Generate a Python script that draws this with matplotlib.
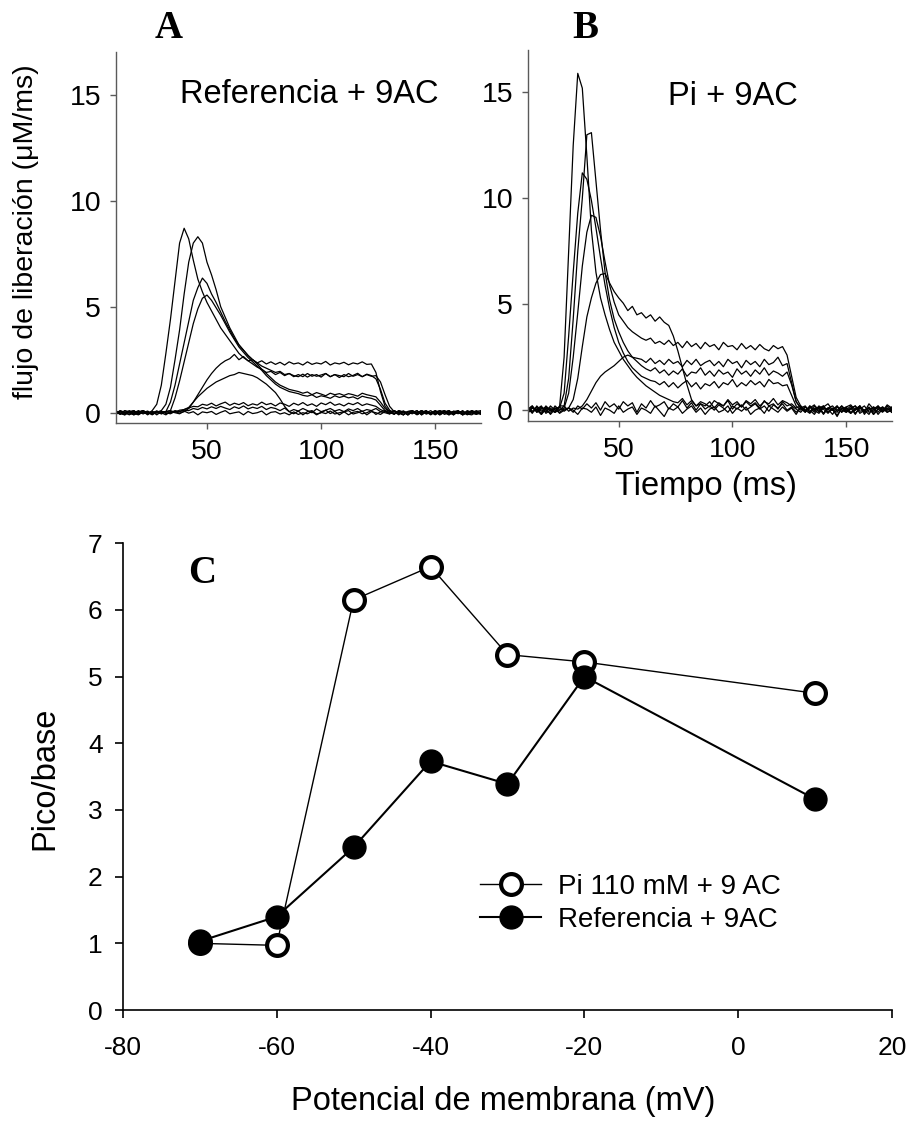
import numpy as np
import matplotlib.pyplot as plt

plt.rcParams['font.family'] = ['Liberation Sans', 'DejaVu Sans']
plt.rcParams['axes.unicode_minus'] = False

# tiempo de muestreo (ms), un punto cada 2 ms
tiempo = np.arange(10, 171, 2)

# panel A: flujo de liberacion (uM/ms), Referencia + 9AC
flujo_ref = [
    [0.05, -0.08, 0.1, -0.02, -0.1, 0.08, 0.0, -0.06, 0.1, 0.4,
     1.3, 2.8, 4.4, 6.2, 8.0, 8.7, 8.2, 7.2, 6.3, 5.7,
     5.2, 4.8, 4.4, 4.0, 3.7, 3.4, 3.1, 2.8, 2.6, 2.45,
     2.3, 2.15, 2.05, 1.9, 1.95, 1.8, 1.9, 1.75, 1.85, 1.7,
     1.8, 1.7, 1.85, 1.72, 1.8, 1.68, 1.85, 1.7, 1.8, 1.75,
     1.7, 1.85, 1.72, 1.8, 1.7, 1.82, 1.75, 1.6, 1.1, 0.45,
     0.12, -0.05, 0.08, -0.1, 0.05, 0.1, -0.08, 0.02, 0.1, -0.06,
     0.05, -0.1, 0.08, 0.0, -0.1, 0.1, -0.05, 0.06, -0.02, -0.08, 0.05],
    [-0.05, 0.08, 0.0, -0.1, 0.06, 0.02, 0.1, -0.06, 0.04, 0.0,
     0.1, 0.4, 1.2, 2.5, 3.9, 5.6, 7.1, 8.0, 8.3, 8.0,
     7.1, 6.5, 5.8, 5.0, 4.5, 4.0, 3.6, 3.2, 2.95, 2.7,
     2.5, 2.35, 2.2, 2.1, 2.0, 1.9, 1.95, 1.8, 1.85, 1.75,
     1.7, 1.82, 1.68, 1.8, 1.72, 1.78, 1.85, 1.7, 1.8, 1.66,
     1.8, 1.7, 1.76, 1.86, 1.7, 1.8, 1.72, 1.75, 1.45, 0.85,
     0.3, 0.05, -0.1, 0.08, 0.0, -0.05, 0.1, -0.1, 0.05, 0.0,
     -0.05, 0.1, 0.0, -0.08, 0.05, 0.1, -0.1, 0.0, 0.08, -0.05, 0.0],
    [0.02, -0.06, 0.1, 0.04, -0.08, 0.0, 0.08, -0.1, 0.05, -0.02,
     0.05, 0.05, 0.5, 1.3, 2.3, 3.3, 4.3, 5.3, 5.9, 6.35,
     6.1, 5.6, 5.2, 4.75, 4.3, 3.9, 3.5, 3.2, 2.95, 2.7,
     2.5, 2.3, 2.05, 1.85, 1.65, 1.45, 1.3, 1.2, 1.1, 1.05,
     1.0, 0.92, 0.98, 0.85, 0.95, 0.88, 0.8, 0.92, 0.85, 0.9,
     0.82, 0.9, 0.85, 0.78, 0.92, 0.85, 0.8, 0.75, 0.5, 0.2,
     0.05, 0.1, -0.06, 0.04, -0.1, 0.08, 0.0, -0.05, 0.1, -0.08,
     0.1, -0.04, 0.0, 0.08, -0.1, 0.05, 0.0, -0.08, 0.1, 0.02, -0.05],
    [-0.08, 0.04, 0.0, 0.1, -0.04, -0.1, 0.06, 0.02, -0.06, 0.08,
     0.0, 0.05, 0.1, 0.7, 1.5, 2.4, 3.3, 4.2, 4.9, 5.4,
     5.55, 5.3, 4.95, 4.6, 4.2, 3.8, 3.45, 3.1, 2.85, 2.6,
     2.4, 2.2, 2.0, 1.75, 1.55, 1.35, 1.2, 1.1, 1.0, 0.95,
     0.9, 0.82, 0.78, 0.85, 0.72, 0.8, 0.75, 0.68, 0.8, 0.72,
     0.78, 0.7, 0.75, 0.65, 0.78, 0.72, 0.68, 0.6, 0.35, 0.1,
     -0.05, 0.08, 0.0, -0.1, 0.06, 0.1, -0.06, 0.0, 0.05, -0.1,
     0.04, 0.1, -0.08, 0.0, 0.06, -0.05, 0.1, -0.1, 0.0, 0.05, 0.0],
    [0.06, -0.04, -0.1, 0.05, 0.1, -0.06, 0.0, 0.08, -0.05, 0.02,
     -0.04, 0.06, 0.0, 0.05, -0.02, 0.05, 0.2, 0.5, 0.85, 1.2,
     1.55, 1.85, 2.1, 2.3, 2.45, 2.55, 2.75, 2.5, 2.65, 2.45,
     2.5, 2.35, 2.45, 2.3, 2.4, 2.28, 2.38, 2.25, 2.4, 2.3,
     2.35, 2.25, 2.4, 2.28, 2.35, 2.3, 2.42, 2.25, 2.35, 2.3,
     2.38, 2.26, 2.35, 2.3, 2.4, 2.28, 2.3, 1.9, 1.0, 0.3,
     0.05, -0.08, 0.1, 0.0, -0.06, 0.08, -0.1, 0.04, 0.0, 0.1,
     -0.06, 0.0, 0.1, -0.1, 0.05, 0.0, 0.08, -0.06, -0.1, 0.06, 0.1],
    [0.0, 0.08, -0.06, 0.02, 0.1, -0.08, 0.04, -0.02, 0.06, -0.1,
     0.05, 0.0, -0.05, 0.06, 0.05, 0.15, 0.25, 0.5, 0.75, 0.95,
     1.15, 1.3, 1.45, 1.55, 1.65, 1.75, 1.8, 1.9, 1.85, 1.8,
     1.75, 1.65, 1.5, 1.35, 1.15, 0.95, 0.65, 0.3, 0.05, -0.05,
     0.08, -0.1, 0.05, 0.1, -0.06, 0.0, 0.12, -0.04, 0.06, -0.1,
     0.04, 0.1, -0.06, 0.0, 0.08, -0.1, 0.05, 0.0, -0.08, 0.06,
     0.1, -0.04, 0.0, 0.08, -0.1, 0.05, -0.02, 0.1, -0.06, 0.0,
     0.06, -0.1, 0.04, 0.1, -0.05, 0.0, -0.08, 0.1, 0.02, -0.04, 0.05],
    [0.1, -0.05, 0.0, 0.06, -0.1, 0.04, 0.1, -0.04, 0.0, 0.08,
     -0.06, 0.05, 0.1, 0.02, 0.12, 0.15, 0.22, 0.3, 0.28, 0.4,
     0.35, 0.45, 0.32, 0.42, 0.5, 0.35, 0.45, 0.38, 0.48, 0.33,
     0.42, 0.36, 0.5, 0.38, 0.44, 0.32, 0.46, 0.4, 0.3, 0.45,
     0.36, 0.48, 0.34, 0.42, 0.3, 0.46, 0.38, 0.5, 0.35, 0.42,
     0.32, 0.45, 0.38, 0.48, 0.34, 0.42, 0.36, 0.3, 0.15, 0.05,
     -0.04, 0.1, 0.0, -0.08, 0.06, 0.02, 0.1, -0.1, 0.05, 0.0,
     0.1, -0.05, 0.02, -0.1, 0.08, 0.0, 0.05, -0.06, 0.1, -0.02, -0.08],
    [-0.04, 0.1, 0.02, -0.08, 0.0, 0.1, -0.06, 0.05, -0.1, 0.04,
     0.08, -0.04, 0.0, 0.1, 0.05, 0.12, 0.1, 0.2, 0.15, 0.25,
     0.18, 0.28, 0.2, 0.3, 0.22, 0.15, 0.28, 0.2, 0.32, 0.18,
     0.26, 0.2, 0.3, 0.15, 0.25, 0.2, 0.1, 0.22, 0.05, 0.15,
     0.08, 0.2, 0.1, 0.0, 0.18, 0.05, 0.12, 0.2, 0.08, 0.15,
     0.05, 0.18, 0.1, 0.2, 0.06, 0.15, 0.1, 0.2, 0.05, 0.1,
     0.0, -0.06, 0.1, 0.04, -0.1, 0.06, 0.0, 0.1, -0.05, 0.02,
     -0.1, 0.05, 0.1, -0.04, 0.0, 0.08, -0.1, 0.06, 0.0, 0.1, -0.05],
    [0.08, 0.0, -0.1, 0.06, 0.04, -0.06, 0.1, 0.0, -0.08, 0.05,
     0.0, -0.1, 0.06, 0.0, -0.05, 0.08, -0.02, 0.05, -0.1, 0.04,
     0.0, 0.06, -0.08, 0.02, 0.1, -0.05, 0.0, 0.04, -0.1, 0.06,
     -0.04, 0.0, 0.08, -0.1, 0.02, 0.05, -0.06, 0.0, -0.1, 0.04,
     -0.08, 0.0, -0.05, 0.06, -0.1, 0.02, -0.04, 0.08, -0.06, 0.0,
     0.05, -0.1, 0.02, 0.06, -0.05, 0.0, 0.1, -0.08, 0.04, 0.0,
     -0.06, 0.08, 0.0, -0.1, 0.05, 0.02, -0.08, 0.1, 0.0, -0.04,
     0.06, -0.08, 0.0, 0.1, -0.05, 0.04, -0.1, 0.02, 0.08, -0.06, 0.0],
]

# panel B: flujo de liberacion (uM/ms), Pi + 9AC
flujo_pi = [
    [0.1, -0.15, 0.2, -0.05, 0.1, -0.2, 0.05, 0.15, 2.5, 7.5,
     12.5, 15.9, 15.2, 12.0, 8.5, 6.5, 5.3, 4.5, 3.8, 3.2,
     2.8, 2.4, 2.1, 1.8, 1.55, 1.35, 1.15, 1.0, 0.85, 0.7,
     0.6, 0.5, 0.4, 0.35, 0.55, 0.25, 0.45, 0.2, 0.4, 0.3,
     0.15, 0.45, 0.3, 0.2, 0.5, 0.25, 0.4, 0.15, 0.45, 0.3,
     0.5, 0.2, 0.4, 0.3, 0.55, 0.25, 0.45, 0.35, 0.2, 0.05,
     -0.1, 0.15, 0.0, -0.2, 0.1, 0.2, -0.1, 0.05, -0.25, 0.1,
     0.0, 0.2, -0.15, 0.1, -0.05, 0.15, -0.2, 0.05, 0.1, -0.1, 0.05],
    [-0.1, 0.15, 0.0, -0.2, 0.1, 0.05, -0.1, 0.2, 0.2, 1.5,
     4.3, 7.5, 10.0, 13.0, 13.1, 10.8, 8.5, 6.5, 5.2, 4.3,
     3.7, 3.2, 2.8, 2.5, 2.3, 2.1, 1.95, 1.85, 2.0, 1.75,
     1.9, 1.65, 1.85, 1.7, 1.95, 1.6, 1.8, 1.75, 2.0, 1.65,
     1.85, 1.6, 1.9, 1.7, 1.8, 1.55, 1.95, 1.7, 1.85, 1.6,
     1.9, 1.7, 2.0, 1.65, 1.85, 1.75, 1.6, 1.8, 1.2, 0.4,
     0.1, -0.1, 0.2, 0.0, -0.15, 0.1, 0.05, -0.2, 0.15, 0.0,
     -0.1, 0.1, 0.2, -0.05, 0.0, -0.2, 0.15, 0.05, -0.1, 0.2, 0.0],
    [0.15, -0.1, 0.05, 0.2, -0.15, 0.0, 0.1, 0.1, 0.8, 3.5,
     6.5, 9.3, 11.2, 10.9, 9.9, 8.6, 7.2, 5.9, 4.8, 3.9,
     3.2, 2.7, 2.3, 2.0, 1.8, 1.6, 1.5, 1.4, 1.35, 1.2,
     1.35, 1.1, 1.3, 1.05, 1.25, 1.4, 1.1, 1.3, 1.0, 1.25,
     1.15, 1.35, 1.05, 1.3, 1.2, 1.45, 1.1, 1.3, 1.15, 1.4,
     1.2, 1.35, 1.1, 1.45, 1.25, 1.3, 1.15, 1.2, 0.7, 0.2,
     0.0, 0.15, -0.1, 0.2, 0.05, -0.15, 0.1, 0.0, 0.2, -0.1,
     0.1, -0.15, 0.05, 0.2, -0.1, 0.0, 0.15, -0.2, 0.05, 0.1, -0.1],
    [0.05, 0.2, -0.1, 0.1, 0.0, -0.15, 0.2, 0.0, 0.1, 0.8,
     2.5, 4.6, 6.8, 8.4, 9.2, 9.1, 8.2, 7.0, 5.9, 5.1,
     4.5, 4.2, 3.9, 3.7, 3.55, 3.4, 3.3, 3.4, 3.15, 3.25,
     3.1, 3.3, 3.05, 3.2, 2.95, 3.25, 3.0, 3.15, 2.9, 3.2,
     3.0, 3.1, 2.85, 3.2, 3.0, 3.05, 2.85, 3.15, 2.9, 3.05,
     2.85, 3.1, 2.9, 2.8, 3.05, 2.9, 3.0, 2.6, 1.6, 0.6,
     0.2, 0.0, 0.15, -0.1, 0.2, 0.05, -0.15, 0.1, 0.0, 0.2,
     -0.05, 0.1, -0.2, 0.15, 0.0, 0.1, -0.1, 0.2, -0.05, 0.0, 0.15],
    [-0.15, 0.1, 0.0, 0.15, -0.1, 0.2, 0.0, -0.1, 0.05, 0.1,
     0.5, 1.5, 3.0, 4.4, 5.3, 6.0, 6.4, 6.45, 6.0, 5.6,
     5.3, 5.05, 4.7, 4.9, 4.5, 4.6, 4.35, 4.5, 4.2, 4.4,
     4.15, 4.0, 3.5, 2.8, 2.0, 1.2, 0.5, 0.2, 0.3, 0.05,
     0.2, 0.0, 0.25, 0.1, -0.1, 0.2, 0.05, 0.25, 0.0, 0.15,
     0.3, 0.05, 0.2, -0.05, 0.25, 0.1, 0.3, 0.0, 0.15, -0.1,
     0.1, 0.2, -0.1, 0.05, 0.15, -0.2, 0.1, 0.0, -0.1, 0.2,
     0.0, -0.15, 0.1, 0.05, 0.2, -0.1, 0.0, 0.15, -0.05, 0.1, -0.1],
    [0.1, -0.05, 0.15, -0.2, 0.05, 0.1, -0.1, 0.0, 0.2, -0.05,
     0.1, 0.05, 0.2, 0.5, 0.9, 1.3, 1.6, 1.8, 1.95, 2.1,
     2.3, 2.5, 2.6, 2.5, 2.45, 2.4, 2.25, 2.45, 2.2, 2.35,
     2.15, 2.4, 2.2, 2.3, 2.05, 2.35, 2.15, 2.4, 2.1, 2.25,
     2.35, 2.1, 2.3, 2.05, 2.4, 2.2, 2.3, 2.0, 2.35, 2.15,
     2.3, 2.05, 2.4, 2.15, 2.25, 2.5, 2.1, 2.2, 1.3, 0.4,
     0.1, -0.1, 0.2, 0.0, 0.15, -0.15, 0.1, 0.2, -0.05, 0.05,
     0.15, -0.1, 0.0, 0.2, -0.2, 0.1, 0.05, -0.1, 0.15, 0.0, 0.1],
    [0.0, 0.2, -0.1, 0.05, 0.15, -0.05, 0.1, -0.15, 0.0, 0.1,
     -0.1, 0.2, 0.05, 0.3, 0.1, 0.35, 0.0, 0.4, 0.15, 0.3,
     0.05, 0.4, 0.2, 0.35, -0.1, 0.3, 0.1, 0.45, 0.15, 0.25,
     0.4, 0.05, 0.3, 0.15, 0.45, 0.1, 0.35, 0.0, 0.3, 0.2,
     0.4, 0.1, 0.35, 0.2, 0.45, 0.05, 0.3, 0.15, 0.4, 0.2,
     0.35, 0.1, 0.45, 0.2, 0.3, 0.05, 0.4, 0.2, 0.3, 0.1,
     0.2, -0.05, 0.1, 0.25, -0.1, 0.15, 0.3, 0.0, 0.2, -0.1,
     0.15, 0.25, 0.0, 0.2, -0.1, 0.3, 0.05, 0.2, -0.05, 0.25, 0.1],
    [-0.1, 0.1, 0.05, -0.15, 0.2, 0.0, -0.1, 0.15, -0.05, 0.1,
     0.0, -0.2, 0.1, 0.05, -0.1, 0.15, -0.25, 0.1, 0.0, -0.15,
     0.2, -0.1, 0.05, 0.15, -0.2, 0.1, 0.0, -0.15, 0.2, -0.05,
     -0.3, 0.1, 0.0, 0.15, -0.15, 0.05, 0.2, -0.1, 0.1, -0.2,
     0.05, 0.15, -0.1, 0.0, 0.2, -0.15, 0.1, -0.05, 0.15, -0.2,
     0.0, 0.1, -0.15, 0.2, 0.05, -0.1, 0.15, -0.05, 0.1, -0.2,
     0.15, 0.0, -0.15, 0.1, -0.05, 0.2, -0.1, 0.05, -0.3, 0.1,
     -0.1, 0.05, 0.2, -0.15, 0.0, 0.1, -0.2, 0.05, 0.15, -0.1, 0.0],
]

# panel C: cociente pico/base vs potencial de membrana
potencial = [-70, -60, -50, -40, -30, -20, 10]
pico_base_pi = [1.0, 0.97, 6.15, 6.65, 5.33, 5.22, 4.75]
pico_base_ref = [1.03, 1.4, 2.44, 3.73, 3.39, 5.0, 3.16]

gris = '#5a5a5a'

fig = plt.figure(figsize=(9.1, 11.22), dpi=100)
axA = fig.add_axes([0.1271, 0.6227, 0.4014, 0.3307])
axB = fig.add_axes([0.5799, 0.6250, 0.4000, 0.3304])
axC = fig.add_axes([0.1348, 0.0998, 0.8457, 0.4160])

for ax, trazos in ((axA, flujo_ref), (axB, flujo_pi)):
    for f in trazos:
        ax.plot(tiempo, f, color='black', lw=0.9)
    ax.set_xlim(10, 170)
    ax.set_ylim(-0.5, 17)
    ax.set_xticks([50, 100, 150])
    ax.set_yticks([0, 5, 10, 15])
    for s in ('top', 'right'):
        ax.spines[s].set_visible(False)
    for s in ('left', 'bottom'):
        ax.spines[s].set_color(gris)
        ax.spines[s].set_linewidth(1.0)
    ax.tick_params(axis='both', direction='out', length=4.5, width=1.0,
                   color=gris, labelsize=20.5)
    ax.tick_params(axis='y', pad=6)
    ax.tick_params(axis='x', pad=7)

axA.text(95, 14.6, 'Referencia + 9AC', ha='center', va='baseline', fontsize=23.5)
axB.text(100.4, 14.4, 'Pi + 9AC', ha='center', va='baseline', fontsize=23.5)

fig.text(26 / 910, 1 - 231.5 / 1122, 'flujo de liberación (μM/ms)', rotation=90,
         ha='center', va='center', fontsize=20.5)
fig.text(705.8 / 910, 1 - 495 / 1122, 'Tiempo (ms)', ha='center', va='baseline',
         fontsize=23.5)

# panel C
axC.plot(potencial, pico_base_pi, color='black', lw=1.0, marker='o', ms=15,
         mfc='white', mec='black', mew=3.0, label='Pi 110 mM + 9 AC', zorder=3)
axC.plot(potencial, pico_base_ref, color='black', lw=1.5, marker='o', ms=16.5,
         mfc='black', mec='black', mew=1.0, label='Referencia + 9AC', zorder=4)
axC.set_xlim(-80, 20)
axC.set_ylim(0, 7)
axC.set_xticks([-80, -60, -40, -20, 0, 20])
axC.set_yticks(range(0, 8))
for s in ('top', 'right'):
    axC.spines[s].set_visible(False)
for s in ('left', 'bottom'):
    axC.spines[s].set_linewidth(1.2)
axC.tick_params(axis='both', direction='out', length=5.5, width=1.2, labelsize=19)
axC.tick_params(axis='y', pad=9)
axC.tick_params(axis='x', pad=13)

axC.legend(loc='upper left', bbox_to_anchor=(0.4643, 0.292), frameon=False,
           fontsize=20, handlelength=2.2, handletextpad=0.6, labelspacing=0.25,
           borderpad=0, borderaxespad=0)

fig.text(503.5 / 910, 1 - 1110 / 1122, 'Potencial de membrana (mV)', ha='center',
         va='baseline', fontsize=23.5)
fig.text(45 / 910, 1 - 778 / 1122, 'Pico/base', rotation=90, ha='center',
         va='center', fontsize=23.5)

# letras de panel
for letra, x, y in (('A', 169, 38), ('B', 585, 38), ('C', 202.5, 583)):
    fig.text(x / 910, 1 - y / 1122, letra, ha='center', va='baseline',
             fontsize=28, fontweight='bold', family='Liberation Serif')

fig.savefig('out.png', dpi=100)
